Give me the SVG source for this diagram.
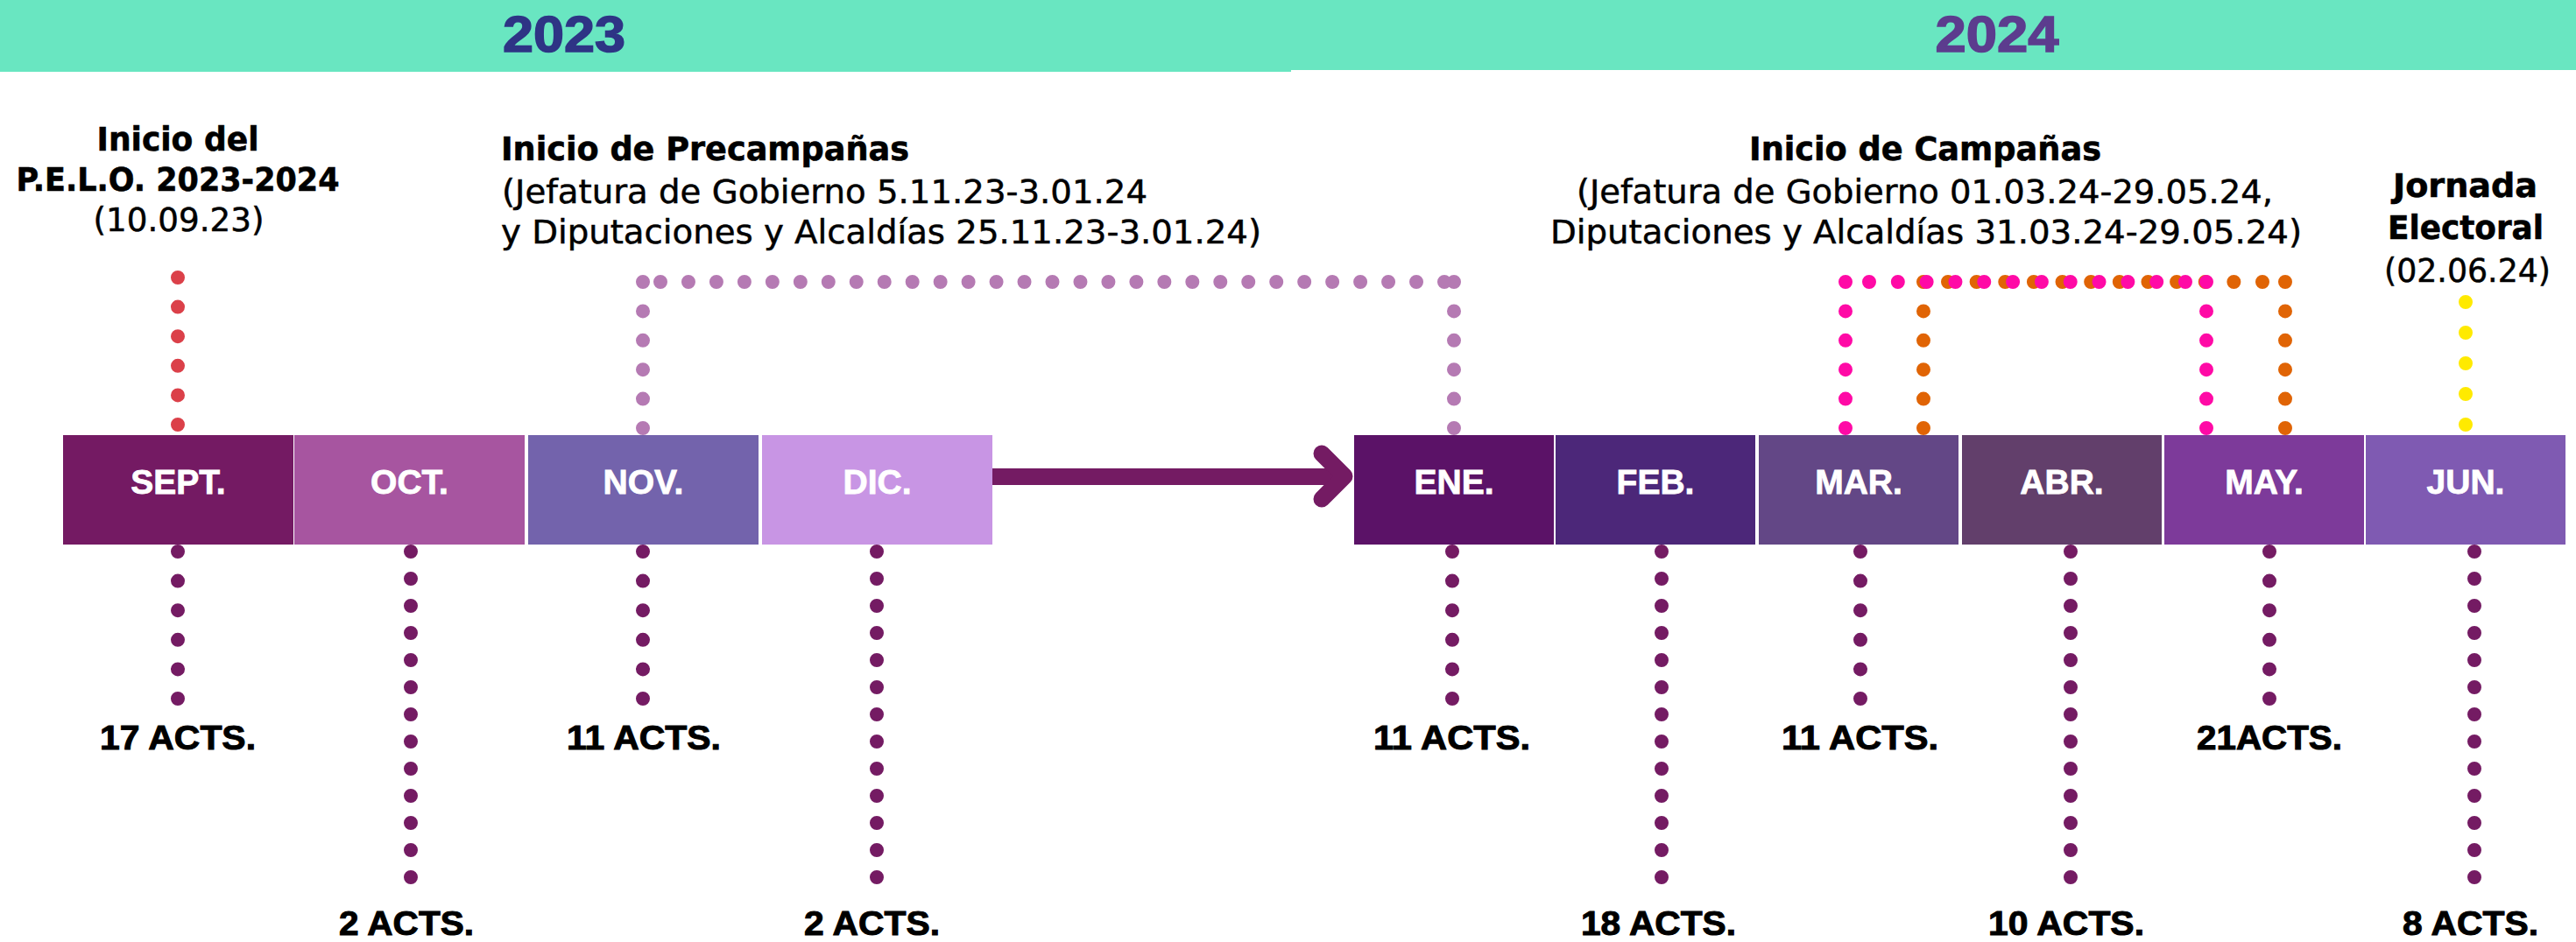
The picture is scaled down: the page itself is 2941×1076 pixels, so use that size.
<svg xmlns="http://www.w3.org/2000/svg" width="2941" height="1076" viewBox="0 0 2941 1076">
<style>
.yr{font-family:"Liberation Sans",Arial,sans-serif;font-weight:bold;font-size:58px;text-anchor:middle;stroke-width:1.5}
.mon{font-family:"Liberation Sans",Arial,sans-serif;font-weight:bold;font-size:39px;fill:#fff;stroke:#fff;stroke-width:0.8;text-anchor:middle}
.act{font-family:"Liberation Sans",Arial,sans-serif;font-weight:bold;font-size:39px;fill:#000;stroke:#000;stroke-width:1;text-anchor:middle}
.hb{font-family:"DejaVu Sans",sans-serif;font-weight:bold;font-size:37px;fill:#000;stroke:#000;stroke-width:0.6}
.hr{font-family:"DejaVu Sans",sans-serif;font-size:37px;fill:#000;stroke:#000;stroke-width:0.5}
.mid{text-anchor:middle}
.dot{fill:none;stroke-width:16;stroke-linecap:round}
.d1{stroke:#741B63}
.red{stroke:#DB4049}
.lil{stroke:#B57AB3}
.mag{stroke:#FF0AA6}
.ora{stroke:#E06405}
.yel{stroke:#FFEA00}
</style>
<rect width="2941" height="1076" fill="#fff"/>
<g id="header">
<rect x="0" y="0" width="1474" height="82" fill="#69E6C1"/>
<rect x="1473" y="0" width="1468" height="80" fill="#69E6C1"/>
<text class="yr" x="644" y="59" fill="#2E3485" stroke="#2E3485" textLength="140" lengthAdjust="spacingAndGlyphs">2023</text>
<text class="yr" x="2280" y="59" fill="#5C3C8E" stroke="#5C3C8E" textLength="141" lengthAdjust="spacingAndGlyphs">2024</text>
</g>
<g id="connectors">
<rect x="1133" y="535" width="400" height="19" fill="#741B63"/>
<polyline points="1509,518 1535,544 1509,570" fill="none" stroke="#741B63" stroke-width="19" stroke-linecap="round" stroke-linejoin="round"/>
<g class="dot d1" stroke-dasharray="0 33.6">
<line x1="203" y1="630" x2="203" y2="798.1"/>
<line x1="734" y1="630" x2="734" y2="798.1"/>
<line x1="1658" y1="630" x2="1658" y2="798.1"/>
<line x1="2124" y1="630" x2="2124" y2="798.1"/>
<line x1="2591" y1="630" x2="2591" y2="798.1"/>
</g>
<g class="dot d1" stroke-dasharray="0 31">
<line x1="469" y1="630" x2="469" y2="1002.1"/>
<line x1="1001" y1="630" x2="1001" y2="1002.1"/>
<line x1="1897" y1="630" x2="1897" y2="1002.1"/>
<line x1="2364" y1="630" x2="2364" y2="1002.1"/>
<line x1="2825" y1="630" x2="2825" y2="1002.1"/>
</g>
<line class="dot red" stroke-dasharray="0 33.6" x1="203" y1="317" x2="203" y2="485.1"/>
<g class="dot lil">
<line stroke-dasharray="0 33.4" x1="734" y1="322" x2="734" y2="489.1"/>
<line stroke-dasharray="0 33.4" x1="1660" y1="322" x2="1660" y2="489.1"/>
<line stroke-dasharray="0 31.964" x1="754" y1="322" x2="1649.1" y2="322"/>
</g>
<g class="dot ora">
<line stroke-dasharray="0 33.4" x1="2196" y1="322" x2="2196" y2="489.1"/>
<line stroke-dasharray="0 33.4" x1="2609" y1="322" x2="2609" y2="489.1"/>
<line stroke-dasharray="0 32.636" x1="2224" y1="322" x2="2583.1" y2="322"/>
</g>
<g class="dot mag">
<line stroke-dasharray="0 33.4" x1="2107" y1="322" x2="2107" y2="489.1"/>
<line stroke-dasharray="0 33.4" x1="2519" y1="322" x2="2519" y2="489.1"/>
<line stroke-dasharray="0 32.818" x1="2134" y1="322" x2="2495.1" y2="322"/>
</g>
<line class="dot yel" stroke-dasharray="0 35" x1="2815" y1="345" x2="2815" y2="485.1"/>
</g>
<g id="sept"><rect x="72" y="497" width="263" height="125" fill="#741A63"/><text class="mon" x="203.5" y="564">SEPT.</text></g>
<g id="oct"><rect x="336" y="497" width="263" height="125" fill="#A755A0"/><text class="mon" x="467.5" y="564">OCT.</text></g>
<g id="nov"><rect x="603" y="497" width="263" height="125" fill="#7363AC"/><text class="mon" x="734.5" y="564">NOV.</text></g>
<g id="dic"><rect x="870" y="497" width="263" height="125" fill="#C895E4"/><text class="mon" x="1001.5" y="564">DIC.</text></g>
<g id="ene"><rect x="1546" y="497" width="228" height="125" fill="#5B1267"/><text class="mon" x="1660" y="564">ENE.</text></g>
<g id="feb"><rect x="1776" y="497" width="228" height="125" fill="#4C2779"/><text class="mon" x="1890" y="564">FEB.</text></g>
<g id="mar"><rect x="2008" y="497" width="228" height="125" fill="#634786"/><text class="mon" x="2122" y="564">MAR.</text></g>
<g id="abr"><rect x="2240" y="497" width="228" height="125" fill="#623F6B"/><text class="mon" x="2354" y="564">ABR.</text></g>
<g id="may"><rect x="2471" y="497" width="228" height="125" fill="#7D3A9A"/><text class="mon" x="2585" y="564">MAY.</text></g>
<g id="jun"><rect x="2701" y="497" width="228" height="125" fill="#7F5AB2"/><text class="mon" x="2815" y="564">JUN.</text></g>
<g id="label-pelo">
<text class="hb mid" x="203" y="172" textLength="185" lengthAdjust="spacingAndGlyphs">Inicio del</text>
<text class="hb mid" x="203" y="218" textLength="369" lengthAdjust="spacingAndGlyphs">P.E.L.O. 2023-2024</text>
<text class="hr mid" x="204" y="264" textLength="195" lengthAdjust="spacingAndGlyphs">(10.09.23)</text>
</g>
<g id="label-precampanas">
<text class="hb" x="572" y="183" textLength="466" lengthAdjust="spacingAndGlyphs">Inicio de Precampañas</text>
<text class="hr" x="573" y="232" textLength="737" lengthAdjust="spacingAndGlyphs">(Jefatura de Gobierno 5.11.23-3.01.24</text>
<text class="hr" x="572" y="278" textLength="868" lengthAdjust="spacingAndGlyphs">y Diputaciones y Alcaldías 25.11.23-3.01.24)</text>
</g>
<g id="label-campanas">
<text class="hb mid" x="2198" y="183" textLength="402" lengthAdjust="spacingAndGlyphs">Inicio de Campañas</text>
<text class="hr mid" x="2197.5" y="232" textLength="795" lengthAdjust="spacingAndGlyphs">(Jefatura de Gobierno 01.03.24-29.05.24,</text>
<text class="hr mid" x="2199" y="278" textLength="858" lengthAdjust="spacingAndGlyphs">Diputaciones y Alcaldías 31.03.24-29.05.24)</text>
</g>
<g id="label-jornada">
<text class="hb mid" x="2814.5" y="225" textLength="165" lengthAdjust="spacingAndGlyphs">Jornada</text>
<text class="hb mid" x="2815" y="273" textLength="178" lengthAdjust="spacingAndGlyphs">Electoral</text>
<text class="hr mid" x="2817" y="322" textLength="190" lengthAdjust="spacingAndGlyphs">(02.06.24)</text>
</g>
<g id="acts">
<text class="act" x="203" y="856" textLength="178" lengthAdjust="spacingAndGlyphs">17 ACTS.</text>
<text class="act" x="735" y="856" textLength="176" lengthAdjust="spacingAndGlyphs">11 ACTS.</text>
<text class="act" x="1657.5" y="856" textLength="179" lengthAdjust="spacingAndGlyphs">11 ACTS.</text>
<text class="act" x="2123.5" y="856" textLength="179" lengthAdjust="spacingAndGlyphs">11 ACTS.</text>
<text class="act" x="2591" y="856" textLength="166" lengthAdjust="spacingAndGlyphs">21ACTS.</text>
<text class="act" x="464" y="1068" textLength="154" lengthAdjust="spacingAndGlyphs">2 ACTS.</text>
<text class="act" x="995.5" y="1068" textLength="155" lengthAdjust="spacingAndGlyphs">2 ACTS.</text>
<text class="act" x="1893.5" y="1068" textLength="177" lengthAdjust="spacingAndGlyphs">18 ACTS.</text>
<text class="act" x="2359" y="1068" textLength="178" lengthAdjust="spacingAndGlyphs">10 ACTS.</text>
<text class="act" x="2820.5" y="1068" textLength="155" lengthAdjust="spacingAndGlyphs">8 ACTS.</text>
</g>
</svg>
